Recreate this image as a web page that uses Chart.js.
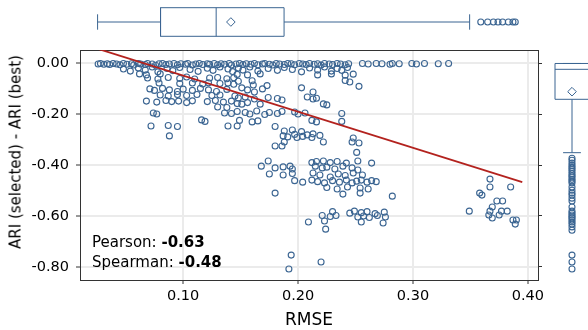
<!DOCTYPE html>
<html><head><meta charset="utf-8">
<script src="https://cdn.jsdelivr.net/npm/chart.js@4.4.1/dist/chart.umd.min.js"></script>
<style>
html,body{margin:0;padding:0;width:588px;height:330px;overflow:hidden;background:#fff;font-family:"DejaVu Sans",sans-serif;}
canvas{position:absolute;}
#cm{left:0;top:0;}
#ct{left:80px;top:0;}
#cr{left:539px;top:50px;}
.t{position:absolute;white-space:nowrap;color:#000;font-family:"DejaVu Sans",sans-serif;}
#ytitle{left:16px;top:151.5px;font-size:15px;line-height:1;transform:translate(-50%,-50%) rotate(-90deg);}
#xtitle{left:309px;top:319px;font-size:17px;line-height:1;transform:translate(-50%,-50%);}
.ann{left:92px;font-size:15px;line-height:20px;}
</style></head><body>
<canvas id="cm" width="588" height="330"></canvas>
<canvas id="ct" width="458" height="44"></canvas>
<canvas id="cr" width="66" height="230"></canvas>
<div class="t" id="ytitle">ARI (selected) - ARI (best)</div>
<div class="t" id="xtitle">RMSE</div>
<div class="t ann" style="top:231.7px">Pearson: <b>-0.63</b></div>
<div class="t ann" style="top:251.7px">Spearman: <b>-0.48</b></div>
<script>
// ---------- data (RMSE, ARI(selected)-ARI(best)) ----------
const rowTop = [[0.026,-0.002],[0.028,0.000],[0.031,-0.003],[0.034,-0.001],[0.036,-0.004],[0.039,0.000],[0.042,-0.002],[0.045,-0.005],[0.048,0.000],[0.051,-0.003],[0.055,-0.001],[0.057,-0.006],[0.061,0.000],[0.063,-0.002],[0.067,-0.004],[0.069,0.000],[0.073,-0.002],[0.076,-0.007],[0.079,-0.001],[0.082,0.000],[0.085,-0.004],[0.088,-0.002],[0.092,0.000],[0.095,-0.005],[0.098,-0.001],[0.102,-0.003],[0.104,0.000],[0.108,-0.006],[0.111,-0.002],[0.114,0.000],[0.117,-0.004],[0.121,-0.001],[0.123,-0.003],[0.127,0.000],[0.130,-0.005],[0.133,-0.001],[0.136,-0.003],[0.140,0.000],[0.142,-0.006],[0.146,-0.002],[0.149,0.000],[0.152,-0.004],[0.155,-0.001],[0.159,-0.003],[0.162,0.000],[0.165,-0.005],[0.169,-0.002],[0.171,0.000],[0.175,-0.003],[0.178,-0.006],[0.181,0.000],[0.184,-0.002],[0.188,-0.004],[0.191,0.000],[0.194,-0.001],[0.197,-0.005],[0.201,0.000],[0.204,-0.002],[0.207,-0.004],[0.210,0.000],[0.214,-0.003],[0.217,-0.001],[0.220,-0.006],[0.223,0.000],[0.227,-0.002],[0.230,-0.004],[0.234,0.000],[0.237,-0.002],[0.241,-0.005],[0.244,-0.001],[0.256,0.000],[0.261,-0.002],[0.268,0.000],[0.273,-0.001],[0.280,-0.003],[0.282,0.000],[0.288,-0.001],[0.299,0.000],[0.303,-0.002],[0.310,0.000],[0.322,-0.001],[0.331,0.000]];
const rowSecond = [[0.048,-0.022],[0.054,-0.030],[0.061,-0.018],[0.067,-0.026],[0.073,-0.014],[0.078,-0.033],[0.086,-0.020],[0.091,-0.028],[0.097,-0.016],[0.106,-0.024],[0.113,-0.031],[0.121,-0.019],[0.126,-0.027],[0.132,-0.014],[0.139,-0.022],[0.143,-0.032],[0.148,-0.018],[0.152,-0.026],[0.158,-0.014],[0.165,-0.030],[0.174,-0.020],[0.182,-0.027],[0.188,-0.016],[0.195,-0.024],[0.203,-0.033],[0.210,-0.018],[0.217,-0.026],[0.223,-0.014],[0.229,-0.030],[0.234,-0.020],[0.238,-0.027],[0.243,-0.016]];
const bandUpper = [[0.062,-0.041],[0.068,-0.045],[0.080,-0.041],[0.147,-0.043],[0.156,-0.045],[0.167,-0.041],[0.217,-0.045],[0.229,-0.041],[0.241,-0.046],[0.248,-0.042],
 [0.069,-0.057],[0.078,-0.061],[0.087,-0.055],[0.097,-0.059],[0.103,-0.053],[0.110,-0.061],[0.123,-0.057],[0.130,-0.055],[0.138,-0.060],[0.144,-0.056],[0.148,-0.070],[0.160,-0.068],[0.241,-0.067],[0.245,-0.073],
 [0.079,-0.077],[0.097,-0.079],[0.108,-0.077],[0.117,-0.081],[0.122,-0.076],[0.132,-0.079],[0.139,-0.077],[0.144,-0.082],[0.161,-0.085],[0.173,-0.087],[0.253,-0.090]];
const bandMid = [[0.071,-0.100],[0.075,-0.106],[0.082,-0.098],[0.088,-0.104],[0.095,-0.110],[0.100,-0.101],[0.108,-0.106],[0.115,-0.098],[0.122,-0.104],[0.129,-0.110],[0.138,-0.102],[0.151,-0.096],[0.156,-0.104],[0.162,-0.112],[0.169,-0.100],[0.203,-0.096],[0.213,-0.112],
 [0.080,-0.124],[0.087,-0.128],[0.095,-0.122],[0.103,-0.126],[0.112,-0.122],[0.125,-0.126],[0.132,-0.124],[0.145,-0.128],[0.148,-0.136],[0.154,-0.132],[0.162,-0.140],[0.174,-0.134],[0.182,-0.138],[0.186,-0.144],[0.208,-0.132],[0.213,-0.140],[0.216,-0.137],
 [0.068,-0.148],[0.077,-0.152],[0.085,-0.146],[0.090,-0.150],[0.096,-0.148],[0.103,-0.154],[0.108,-0.147],[0.121,-0.150],[0.128,-0.146],[0.135,-0.152],[0.142,-0.148],[0.147,-0.158],[0.151,-0.160],[0.156,-0.154],[0.167,-0.160],[0.222,-0.159],[0.225,-0.163],
 [0.130,-0.171],[0.138,-0.173]];
const bandLower = [[0.074,-0.195],[0.077,-0.199],[0.136,-0.195],[0.142,-0.197],[0.147,-0.189],[0.154,-0.193],[0.158,-0.199],[0.164,-0.187],[0.171,-0.201],[0.175,-0.193],[0.182,-0.197],[0.186,-0.189],[0.197,-0.191],[0.200,-0.199],[0.206,-0.195],[0.238,-0.197],
 [0.116,-0.222],[0.119,-0.228],[0.149,-0.224],[0.160,-0.230],[0.165,-0.226],[0.212,-0.224],[0.216,-0.230],[0.238,-0.228],
 [0.072,-0.246],[0.087,-0.244],[0.095,-0.248],[0.139,-0.246],[0.147,-0.246],[0.180,-0.248],
 [0.188,-0.266],[0.195,-0.262],[0.203,-0.268],[0.208,-0.281],[0.213,-0.277],[0.219,-0.283],[0.187,-0.285],[0.197,-0.279],
 [0.088,-0.285],[0.191,-0.289],[0.199,-0.291],[0.204,-0.287],[0.212,-0.291],[0.248,-0.293],
 [0.180,-0.325],[0.186,-0.325],[0.188,-0.309],[0.222,-0.309],[0.247,-0.309],[0.253,-0.313],[0.251,-0.350]];
const clusterMid = [[0.174,-0.384],[0.212,-0.390],[0.216,-0.386],[0.222,-0.384],[0.228,-0.390],[0.234,-0.386],[0.242,-0.392],[0.252,-0.384],[0.264,-0.392],
 [0.168,-0.404],[0.180,-0.411],[0.187,-0.407],[0.193,-0.404],[0.195,-0.415],[0.215,-0.404],[0.221,-0.411],[0.225,-0.408],[0.232,-0.415],[0.239,-0.404],[0.247,-0.411],[0.252,-0.419],
 [0.175,-0.435],[0.187,-0.439],[0.195,-0.433],[0.213,-0.431],[0.219,-0.439],[0.228,-0.447],[0.235,-0.435],[0.241,-0.441],[0.248,-0.431],[0.256,-0.439],
 [0.197,-0.461],[0.204,-0.467],[0.212,-0.459],[0.217,-0.465],[0.223,-0.470],[0.230,-0.461],[0.236,-0.467],[0.242,-0.459],[0.247,-0.470],[0.251,-0.463],[0.255,-0.459],[0.260,-0.467],[0.264,-0.461],[0.268,-0.465],
 [0.225,-0.488],[0.234,-0.494],[0.243,-0.486],[0.254,-0.490],[0.261,-0.494],
 [0.180,-0.510],[0.239,-0.514],[0.254,-0.510],[0.282,-0.522]];
const clusterLow = [[0.230,-0.583],[0.245,-0.589],[0.249,-0.581],[0.255,-0.587],[0.260,-0.583],[0.267,-0.591],[0.275,-0.585],
 [0.221,-0.598],[0.228,-0.602],[0.233,-0.598],[0.252,-0.604],[0.257,-0.600],[0.262,-0.606],[0.269,-0.598],[0.276,-0.604],
 [0.209,-0.624],[0.223,-0.620],[0.255,-0.624],[0.274,-0.628],[0.224,-0.652],
 [0.194,-0.754],[0.220,-0.781],[0.192,-0.809]];
const clusterRight = [[0.367,-0.455],[0.367,-0.486],[0.385,-0.486],[0.358,-0.510],[0.360,-0.518],[0.373,-0.541],[0.378,-0.541],[0.369,-0.565],[0.349,-0.581],[0.367,-0.581],[0.377,-0.581],[0.382,-0.581],[0.366,-0.596],[0.375,-0.596],[0.369,-0.608],[0.387,-0.616],[0.390,-0.616],[0.389,-0.632]];

// fitted regression line end points
const regLine = [[0.0255,0.058],[0.3951,-0.467]];

// marginal box plot stats: [whiskerLow, Q1, median, Q3, whiskerHigh]
const rmseStats = [0.0255, 0.0803, 0.1287, 0.1878, 0.3493];
const rmseMean = 0.1415;
const rmseOutliers = [0.359,0.365,0.370,0.374,0.378,0.383,0.387,0.389];
const ariStats = [-0.351, -0.141, -0.023, 0.000, 0.000];
const ariMean = -0.111;
const ariOutliers = [-0.373,-0.381,-0.392,-0.401,-0.409,-0.416,-0.424,-0.433,-0.441,-0.447,-0.456,-0.462,-0.470,-0.486,-0.499,-0.510,-0.518,-0.530,-0.541,-0.565,-0.581,-0.589,-0.596,-0.603,-0.608,-0.616,-0.624,-0.632,-0.643,-0.656,-0.754,-0.781,-0.809];

// ticks
const xTickVals = [0.1,0.2,0.3,0.4];
const xTickLabels = ['0.10','0.20','0.30','0.40'];
const yTickVals = [0,-0.2,-0.4,-0.6,-0.8];
const yTickLabels = ['0.00','-0.20','-0.40','-0.60','-0.80'];

// ---------- styling / layout ----------
const BLUE = '#3b6592';
const RED = '#b3221e';
const AXIS = '#333333';
const GRID = '#ebebeb';
const X_MIN = 0.0102, X_MAX = 0.4088, Y_MIN = -0.852, Y_MAX = 0.053;
const tickFont = {family:'DejaVu Sans', size:14.5};
const xy = a => a.map(([x,y]) => ({x, y}));
const points = xy([].concat(rowTop,rowSecond,bandUpper,bandMid,bandLower,clusterMid,clusterLow,clusterRight));

const common = {responsive:false, animation:false, events:[], plugins:{legend:{display:false}, tooltip:{enabled:false}}, layout:{padding:0, autoPadding:false}};

new Chart(document.getElementById('cm'), {
  type:'scatter',
  data:{datasets:[
    {type:'line', data:xy(regLine), borderColor:RED, borderWidth:1.8, pointRadius:0, fill:false, tension:0, order:0},
    {data:points, borderColor:BLUE, backgroundColor:'rgba(0,0,0,0)', pointRadius:3, borderWidth:1.1, order:1}
  ]},
  options:Object.assign({}, common, {
    scales:{
      x:{type:'linear', position:'bottom', min:X_MIN, max:X_MAX,
        afterBuildTicks:s=>{s.ticks = xTickVals.map(v=>({value:v}));},
        afterFit:s=>{s.height = 50;},
        ticks:{callback:(v,i)=>xTickLabels[i], font:tickFont, color:'#000', padding:4, maxRotation:0, autoSkip:false},
        grid:{color:GRID, lineWidth:2, tickLength:4, tickColor:AXIS, tickWidth:1},
        border:{display:true, color:AXIS, width:1}},
      y:{type:'linear', position:'left', min:Y_MIN, max:Y_MAX,
        afterBuildTicks:s=>{s.ticks = yTickVals.map(v=>({value:v}));},
        afterFit:s=>{s.width = 80;},
        ticks:{callback:(v,i)=>yTickLabels[i], font:tickFont, color:'#000', padding:7, autoSkip:false},
        grid:{color:GRID, lineWidth:2, tickLength:4, tickColor:AXIS, tickWidth:1},
        border:{display:true, color:AXIS, width:1}},
      xTop:{type:'linear', position:'top', min:X_MIN, max:X_MAX,
        afterFit:s=>{s.height = 50;},
        ticks:{display:false},
        grid:{drawOnChartArea:false, drawTicks:false},
        border:{display:true, color:AXIS, width:1}},
      yRight:{type:'linear', position:'right', min:Y_MIN, max:Y_MAX,
        afterBuildTicks:s=>{s.ticks = yTickVals.map(v=>({value:v}));},
        afterFit:s=>{s.width = 50;},
        ticks:{display:false},
        grid:{drawOnChartArea:false, tickLength:4, tickColor:AXIS, color:AXIS, tickWidth:1},
        border:{display:true, color:AXIS, width:1}}
    }
  })
});

// ---------- box plot helpers ----------
const BOX_HALF_T = 0.65, CAP_HALF_T = 0.35;   // top panel (y offsets)
const BOX_HALF_R = 0.515, CAP_HALF_R = 0.27;  // right panel (x offsets)
function lineDs(pts){ return {data:pts, showLine:true, borderColor:BLUE, borderWidth:1, pointRadius:0, fill:false, clip:false}; }
function boxDatasets(stats, mean, outliers, half, cap, horizontal){
  const P = horizontal ? (v,o)=>({x:v, y:o}) : (v,o)=>({x:o, y:v});
  const [lo,q1,med,q3,hi] = stats;
  return [
    lineDs([P(q1,-half),P(q3,-half),P(q3,half),P(q1,half),P(q1,-half)]),
    lineDs([P(med,-half),P(med,half)]),
    lineDs([P(lo,0),P(q1,0)]),
    lineDs([P(q3,0),P(hi,0)]),
    lineDs([P(lo,-cap),P(lo,cap)]),
    lineDs([P(hi,-cap),P(hi,cap)]),
    {data:[P(mean,0)], pointStyle:'rectRot', pointRadius:4.3, borderWidth:1, borderColor:BLUE, backgroundColor:'#fff', clip:false},
    {data:outliers.map(v=>P(v,0)), pointRadius:3, borderWidth:1.1, borderColor:BLUE, backgroundColor:'rgba(0,0,0,0)', clip:false}
  ];
}

new Chart(document.getElementById('ct'), {
  type:'scatter',
  data:{datasets:boxDatasets(rmseStats, rmseMean, rmseOutliers, BOX_HALF_T, CAP_HALF_T, true)},
  options:Object.assign({}, common, {scales:{
    x:{type:'linear', display:false, min:X_MIN, max:X_MAX},
    y:{type:'linear', display:false, min:-1, max:1}
  }})
});

new Chart(document.getElementById('cr'), {
  type:'scatter',
  data:{datasets:boxDatasets(ariStats, ariMean, ariOutliers, BOX_HALF_R, CAP_HALF_R, false)},
  options:Object.assign({}, common, {scales:{
    x:{type:'linear', display:false, min:-1, max:1},
    y:{type:'linear', display:false, min:Y_MIN, max:Y_MAX}
  }})
});
</script>
</body></html>
